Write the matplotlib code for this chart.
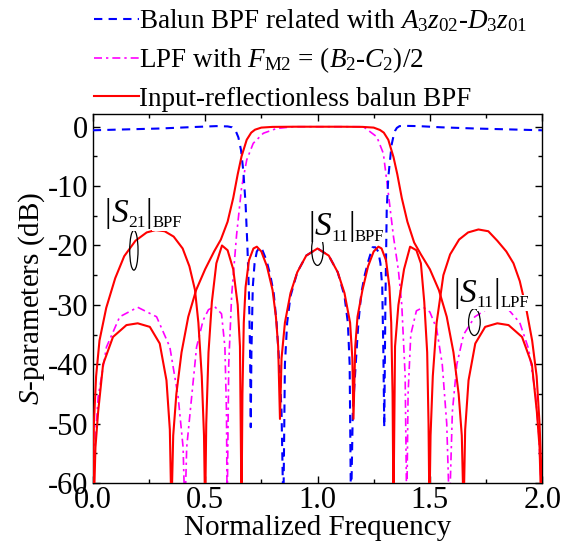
import matplotlib
matplotlib.use("Agg")
import matplotlib.pyplot as plt
from matplotlib.patches import Ellipse
from matplotlib.transforms import offset_copy

plt.rcParams["font.family"] = ["Liberation Serif", "DejaVu Serif"]
plt.rcParams["mathtext.fontset"] = "custom"
plt.rcParams["mathtext.rm"] = "Liberation Serif"
plt.rcParams["mathtext.it"] = "Liberation Serif:italic"
plt.rcParams["axes.unicode_minus"] = False

# --- values (normalized frequency, dB) --------------------------------
# balun BPF related with A3z02-D3z01 (blue dashed)
balun_x = [0.0, 0.15, 0.3, 0.45, 0.55, 0.6, 0.62, 0.635, 0.648, 0.66, 0.67,
           0.68, 0.688, 0.695, 0.7, 0.703, 0.706, 0.712, 0.72, 0.73, 0.743,
           0.755, 0.773, 0.79, 0.805, 0.818, 0.83, 0.84, 0.848, 0.855, 0.865,
           0.88, 0.91, 0.95, 1.0, 1.05, 1.09, 1.12, 1.135, 1.143, 1.149,
           1.157, 1.17, 1.182, 1.195, 1.21, 1.227, 1.245, 1.257, 1.27, 1.28,
           1.288, 1.293, 1.297, 1.302, 1.308, 1.315, 1.323, 1.33, 1.338,
           1.345, 1.353, 1.365, 1.38, 1.45, 1.55, 1.7, 1.85, 2.0]
balun_y = [-0.6, -0.45, -0.3, -0.05, 0.1, 0.05, -0.1, -0.6, -1.8, -4.0, -7.5,
           -13.0, -20.0, -28.0, -38.0, -50.6, -38.0, -27.0, -23.0, -21.0,
           -20.3, -20.8, -22.5, -25.0, -28.0, -33.0, -40.0, -48.0, -65.0,
           -40.0, -33.0, -28.5, -24.5, -21.7, -20.5, -21.7, -24.5, -28.5,
           -33.0, -40.0, -65.0, -48.0, -40.0, -33.0, -28.0, -25.0, -22.5,
           -20.3, -20.3, -21.0, -23.0, -27.0, -38.0, -50.6, -30.0, -14.0,
           -8.5, -5.5, -3.0, -1.6, -0.7, -0.2, 0.1, 0.15, 0.1, -0.1, -0.3,
           -0.45, -0.6]

# LPF with F_M2 = (B2-C2)/2 (magenta dash-dot)
lpf_x = [0.0, 0.004, 0.009, 0.024, 0.061, 0.12, 0.2, 0.284, 0.343, 0.38,
         0.402, 0.41, 0.418, 0.44, 0.462, 0.491, 0.515, 0.543, 0.573, 0.588,
         0.595, 0.598, 0.605, 0.618, 0.64, 0.662, 0.685, 0.714, 0.759, 0.818,
         0.892, 1.0, 1.1, 1.204, 1.264, 1.293, 1.315, 1.338, 1.36, 1.375,
         1.39, 1.397, 1.403, 1.415, 1.44, 1.471, 1.5, 1.53, 1.555, 1.575,
         1.587, 1.6, 1.62, 1.65, 1.7, 1.75, 1.8, 1.85, 1.9, 1.94, 1.97,
         1.985, 2.0]
lpf_y = [-65.0, -60.0, -54.0, -45.5, -37.1, -32.0, -30.4, -32.0, -37.1,
         -45.5, -54.0, -65.0, -54.0, -45.5, -37.1, -32.6, -30.8, -30.3, -31.5,
         -37.1, -48.0, -65.0, -40.0, -28.4, -18.2, -10.3, -5.6, -2.8, -1.1,
         -0.3, 0.0, 0.0, 0.0, 0.0, -1.7, -4.5, -11.2, -18.5, -24.2, -30.0,
         -42.0, -65.0, -45.0, -35.0, -31.0, -30.4, -31.2, -34.0, -40.0, -50.0,
         -65.0, -48.0, -40.0, -35.0, -32.0, -30.8, -30.3, -30.8, -33.0, -37.5,
         -45.0, -52.0, -65.0]

# input-reflectionless balun BPF, |S21| (red)
rs21_x = [0.004, 0.012, 0.024, 0.046, 0.09, 0.15, 0.2, 0.254, 0.298, 0.328,
          0.343, 0.35, 0.358, 0.372, 0.395, 0.425, 0.46, 0.5, 0.54, 0.57, 0.6,
          0.625, 0.645, 0.662, 0.685, 0.705, 0.722, 0.75, 0.8, 0.9, 1.0, 1.1,
          1.2, 1.25, 1.278, 1.295, 1.315, 1.338, 1.355, 1.375, 1.4, 1.43,
          1.46, 1.5, 1.54, 1.575, 1.605, 1.628, 1.642, 1.65, 1.657, 1.672,
          1.702, 1.746, 1.8, 1.85, 1.91, 1.954, 1.976, 1.988, 1.996]
rs21_y = [-65.0, -54.0, -48.0, -40.0, -35.4, -33.4, -33.1, -33.7, -36.5,
          -42.7, -51.0, -65.0, -52.0, -45.0, -38.0, -32.0, -27.5, -24.0, -21.0,
          -19.0, -16.0, -12.0, -8.0, -5.0, -2.2, -1.0, -0.5, -0.15, -0.03, 0.0,
          0.0, 0.0, -0.03, -0.15, -0.55, -1.0, -2.2, -5.1, -8.0, -12.0, -16.0,
          -19.5, -21.5, -24.0, -27.5, -32.0, -38.0, -45.0, -52.0, -65.0, -51.0,
          -42.7, -36.5, -33.7, -33.1, -33.4, -35.4, -40.0, -48.0, -54.0, -65.0]

# input-reflectionless balun BPF, reflection arches (red)
rs11_x = [0.0, 0.005, 0.015, 0.03, 0.06, 0.1, 0.14, 0.19, 0.24, 0.28, 0.32,
          0.36, 0.4, 0.43, 0.455, 0.47, 0.485, 0.495, 0.5, 0.505, 0.515, 0.53,
          0.55, 0.575, 0.6, 0.625, 0.645, 0.655, 0.662, 0.666, 0.672, 0.68,
          0.695, 0.715, 0.73, 0.75, 0.775, 0.8, 0.815, 0.825, 0.833, 0.84,
          0.855, 0.88, 0.91, 0.95, 1.0, 1.05, 1.09, 1.12, 1.145, 1.155, 1.16,
          1.168, 1.178, 1.2, 1.225, 1.25, 1.271, 1.285, 1.305, 1.32, 1.328,
          1.334, 1.338, 1.345, 1.36, 1.385, 1.412, 1.44, 1.46, 1.475, 1.488,
          1.494, 1.498, 1.503, 1.513, 1.53, 1.56, 1.59, 1.63, 1.67, 1.716,
          1.76, 1.8, 1.84, 1.872, 1.9, 1.93, 1.955, 1.975, 1.988, 1.996, 2.0]
rs11_y = [-65.0, -50.0, -42.0, -36.0, -30.5, -25.5, -21.8, -19.2, -17.8,
          -17.4, -17.6, -18.5, -20.5, -23.5, -27.5, -33.0, -42.0, -52.0, -65.0,
          -50.0, -38.0, -29.5, -23.0, -20.0, -20.8, -24.0, -30.0, -37.0, -65.0,
          -45.0, -33.0, -27.0, -22.5, -20.5, -20.2, -21.0, -23.5, -27.5, -32.0,
          -37.0, -49.2, -39.0, -33.0, -28.0, -24.5, -21.7, -20.5, -21.7, -24.5,
          -28.0, -33.0, -39.0, -49.2, -37.0, -32.0, -27.5, -23.5, -21.0, -20.2,
          -20.5, -22.5, -27.0, -33.0, -45.0, -65.0, -37.0, -30.0, -24.0, -20.2,
          -20.8, -23.0, -29.5, -38.0, -50.0, -65.0, -52.0, -42.0, -33.0, -25.0,
          -21.5, -19.0, -17.8, -17.3, -17.6, -19.2, -21.0, -23.0, -26.0, -30.9,
          -36.0, -42.0, -50.0, -58.0, -65.0]

legend_labels = [r"Balun BPF related with $A_3z_{02}$-$D_3z_{01}$",
                 r"LPF with $F_{\rm M2}$ = ($B_2$-$C_2$)/2",
                 "Input-reflectionless balun BPF"]

# curve labels: (x, y, subscript, group subscript), ellipse (x, y, w, h)
label_pos = [(0.053, -16.0, "21", "BPF"), (0.958, -18.3, "11", "BPF"),
             (1.604, -29.5, "11", "LPF")]
ellipses = [(0.183, -20.8, 0.037, 6.7), (1.0, -20.65, 0.052, 5.4),
            (1.698, -32.9, 0.052, 4.5)]

fig = plt.figure(figsize=(5.69, 5.44), dpi=100)
ax = fig.add_axes([0.163, 0.112, 0.79, 0.678])

ax.plot(balun_x, balun_y, color="#0000FF", lw=1.5, ls=(0, (4, 3)),
        label=legend_labels[0], zorder=3)
ax.plot(lpf_x, lpf_y, color="#FF00FF", lw=1.2, ls=(0, (4.8, 2.4, 1.4, 2.4)),
        label=legend_labels[1], zorder=2)
ax.plot(rs21_x, rs21_y, color="#FF0000", lw=1.5, label=legend_labels[2],
        zorder=4)
ax.plot(rs11_x, rs11_y, color="#FF0000", lw=1.5, zorder=4)

ax.set_xlim(0, 2)
ax.set_ylim(-60, 2.1)

for (cx, cy, w, h) in ellipses:
    ax.add_patch(Ellipse((cx, cy), w, h, fill=False, ec="black", lw=0.9,
                         zorder=6))


def sub_label(x, y, sub1, sub2):
    """|S_xx|_yyy built piece by piece: big S, small subscripts."""
    renderer = fig.canvas.get_renderer()
    parts = [("|", 24, "normal", 0), ("S", 24, "italic", 0),
             (sub1, 12.5, "normal", -3.8), ("|", 24, "normal", 0),
             (sub2, 12, "normal", -3.8)]
    dx = 0.0
    for txt, size, style, dy in parts:
        tr = offset_copy(ax.transData, fig=fig, x=dx, y=dy, units="points")
        t = ax.text(x, y, txt, fontsize=size, style=style, ha="left",
                    va="baseline", transform=tr, zorder=7,
                    bbox=dict(boxstyle="square,pad=0", fc="white",
                              ec="none"))
        dx += t.get_window_extent(renderer).width * 72.0 / fig.dpi


for (lx, ly, s1, s2) in label_pos:
    sub_label(lx, ly, s1, s2)

ax.set_xticks([0, 0.5, 1.0, 1.5, 2.0])
ax.set_xticks([0.25, 0.75, 1.25, 1.75], minor=True)
ax.set_yticks(range(-60, 1, 10))
ax.set_yticks(range(-55, 0, 10), minor=True)
ax.xaxis.set_major_formatter(matplotlib.ticker.FormatStrFormatter("%.1f"))
ax.tick_params(which="both", direction="in", top=True, right=True,
               labelsize=22, width=1.0)
ax.tick_params(which="major", length=5)
ax.tick_params(which="minor", length=3)
ax.tick_params(axis="x", pad=2)
for s in ax.spines.values():
    s.set_linewidth(1.0)

ax.set_xlabel("Normalized Frequency", fontsize=21, labelpad=0)
ax.set_ylabel(r"$S$-parameters (dB)", fontsize=21, labelpad=0)

ax.legend(loc="lower left", bbox_to_anchor=(-0.003, 1.0), frameon=False,
          fontsize=19.5, handlelength=1.65, handletextpad=0.0, borderpad=0,
          borderaxespad=0.1, labelspacing=0.42)

fig.savefig("out.png", dpi=100)
